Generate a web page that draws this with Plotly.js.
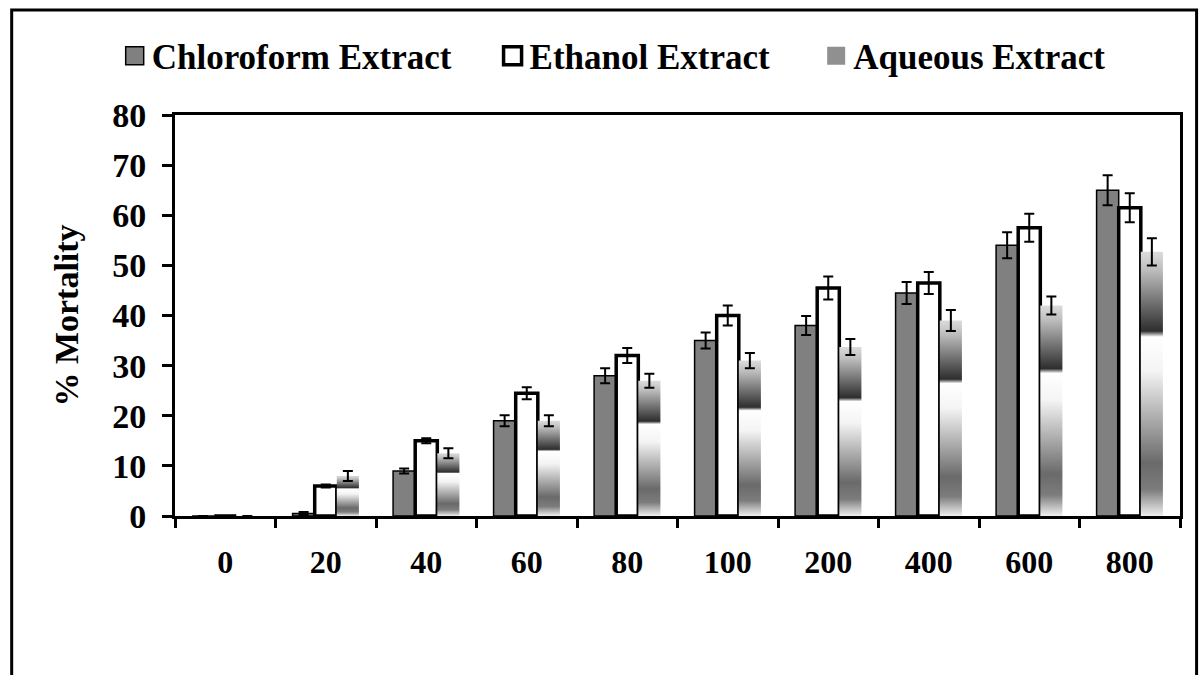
<!DOCTYPE html>
<html>
<head>
<meta charset="utf-8">
<script src="https://cdn.plot.ly/plotly-3.0.1.min.js"></script>
<style>
  html, body { margin: 0; padding: 0; background: #ffffff; }
  #chart { width: 1203px; height: 675px; }
</style>
</head>
<body>
<div id="chart"></div>
<script>
// ---- data ----
const categories = ['0', '20', '40', '60', '80', '100', '200', '400', '600', '800'];
const seriesNames = ['Chloroform Extract', 'Ethanol Extract', 'Aqueous Extract'];
const chloroform    = [0, 0.5, 9, 19, 28, 35, 38, 44.5, 54, 65];
const chloroformErr = [null, 0.3, 0.5, 1.1, 1.5, 1.6, 1.9, 2.2, 2.6, 3];
const ethanol       = [0, 6, 15, 24.5, 32, 40, 45.5, 46.5, 57.5, 61.5];
const ethanolErr    = [null, 0.3, 0.5, 1.2, 1.5, 2, 2.3, 2.2, 2.8, 2.9];
const aqueous       = [0, 8, 12.5, 19, 27, 31, 33.7, 39, 42, 52.7];
const aqueousErr    = [null, 1, 1, 1.1, 1.4, 1.5, 1.6, 2.1, 1.8, 2.7];
const yTicks = [0, 10, 20, 30, 40, 50, 60, 70, 80];

const FONT = 'Liberation Serif, Times New Roman, serif';

function err(arr) {
  return { type: 'data', array: arr, visible: true, color: '#000', thickness: 2, width: 5 };
}

const traces = [
  { type: 'bar', name: seriesNames[0], x: categories, y: chloroform, error_y: err(chloroformErr),
    marker: { color: '#808080', line: { color: '#000', width: 1.5 } }, legend: 'legend' },
  { type: 'bar', name: seriesNames[1], x: categories, y: ethanol, error_y: err(ethanolErr),
    marker: { color: '#ffffff', line: { color: '#000', width: 3.5 } }, legend: 'legend2' },
  { type: 'bar', name: seriesNames[2], x: categories, y: aqueous, error_y: err(aqueousErr),
    marker: { color: '#909090', line: { color: 'rgba(0,0,0,0)', width: 0 } }, legend: 'legend3' }
];

const legFont = { family: FONT, size: 35, color: '#000', weight: 700 };
function leg(x) {
  return { x: x, y: 1.147, xanchor: 'left', yanchor: 'middle', orientation: 'h',
           font: legFont, bgcolor: 'rgba(0,0,0,0)', borderwidth: 0 };
}

const layout = {
  width: 1203, height: 675,
  margin: { l: 175, r: 23, t: 115, b: 159, autoexpand: false },
  paper_bgcolor: '#ffffff', plot_bgcolor: '#ffffff',
  font: { family: FONT, size: 32, color: '#000', weight: 700 },
  barmode: 'group', bargap: 0.34, bargroupgap: 0,
  showlegend: true,
  legend: leg(-0.063),
  legend2: leg(0.313),
  legend3: leg(0.635),
  xaxis: {
    type: 'category', categoryorder: 'array', categoryarray: categories,
    showline: true, linecolor: '#000', linewidth: 3, mirror: true,
    ticks: 'outside', tickson: 'boundaries', ticklen: 9, tickwidth: 3, tickcolor: '#000',
    ticklabelstandoff: 16,
    tickfont: { family: FONT, size: 32, color: '#000', weight: 700 },
    showgrid: false, zeroline: false, fixedrange: true
  },
  yaxis: {
    range: [0, 80], tickvals: yTicks, ticktext: yTicks.map(String),
    showline: true, linecolor: '#000', linewidth: 3, mirror: true,
    ticks: 'outside', ticklen: 10, tickwidth: 3, tickcolor: '#000',
    ticklabelstandoff: 9,
    tickfont: { family: FONT, size: 34, color: '#000', weight: 700 },
    showgrid: false, zeroline: false, fixedrange: true,
    title: { text: '% Mortality', font: { family: FONT, size: 34, color: '#000', weight: 700 }, standoff: 24 }
  },
  shapes: [
    { type: 'rect', xref: 'paper', yref: 'paper', x0: -0.1625, x1: 1.0165, y0: -0.45, y1: 1.262,
      line: { color: '#000', width: 3 }, fillcolor: 'rgba(0,0,0,0)', layer: 'above' }
  ]
};

Plotly.newPlot('chart', traces, layout, { staticPlot: true, displayModeBar: false }).then(function (gd) {
  // Vertical shaded gradient fill for the aqueous bars (as in the reference)
  const svgNS = 'http://www.w3.org/2000/svg';
  const svg = gd.querySelector('.main-svg');
  let defs = svg.querySelector('defs');
  if (!defs) { defs = document.createElementNS(svgNS, 'defs'); svg.insertBefore(defs, svg.firstChild); }
  function makeGrad(id, stops, x2) {
    const grad = document.createElementNS(svgNS, 'linearGradient');
    grad.setAttribute('id', id);
    grad.setAttribute('x1', '0'); grad.setAttribute('y1', '0');
    grad.setAttribute('x2', x2); grad.setAttribute('y2', '1');
    stops.forEach(function (s) {
      const st = document.createElementNS(svgNS, 'stop');
      st.setAttribute('offset', s[0]);
      st.setAttribute('stop-color', s[1]);
      grad.appendChild(st);
    });
    defs.appendChild(grad);
  }
  makeGrad('aqGrad', [[0, '#dcdcdc'], [0.07, '#bdbdbd'], [0.30, '#2e2e2e'], [0.322, '#ffffff'],
                      [0.45, '#f4f4f4'], [0.80, '#6a6a6a'], [0.90, '#7c7c7c'], [1, '#f0f0f0']], '0');
  makeGrad('aqLegGrad', [[0, '#ffffff'], [0.35, '#d0d0d0'], [0.7, '#555555'], [1, '#ffffff']], '1');

  const barTraces = gd.querySelectorAll('.barlayer .trace');
  if (barTraces[2]) {
    barTraces[2].querySelectorAll('.point path').forEach(function (p) { p.style.fill = 'url(#aqGrad)'; });
  }
  // larger square legend keys placed close to their text
  gd.querySelectorAll('.legendpoints path').forEach(function (p) {
    p.setAttribute('d', 'M14,-9H32V9H14Z');
    p.removeAttribute('transform');
  });
  const legs = gd.querySelectorAll('.legend');
  if (legs[2]) {
    legs[2].querySelectorAll('.legendpoints path').forEach(function (p) { p.style.fill = 'url(#aqLegGrad)'; });
  }
});
</script>
</body>
</html>
